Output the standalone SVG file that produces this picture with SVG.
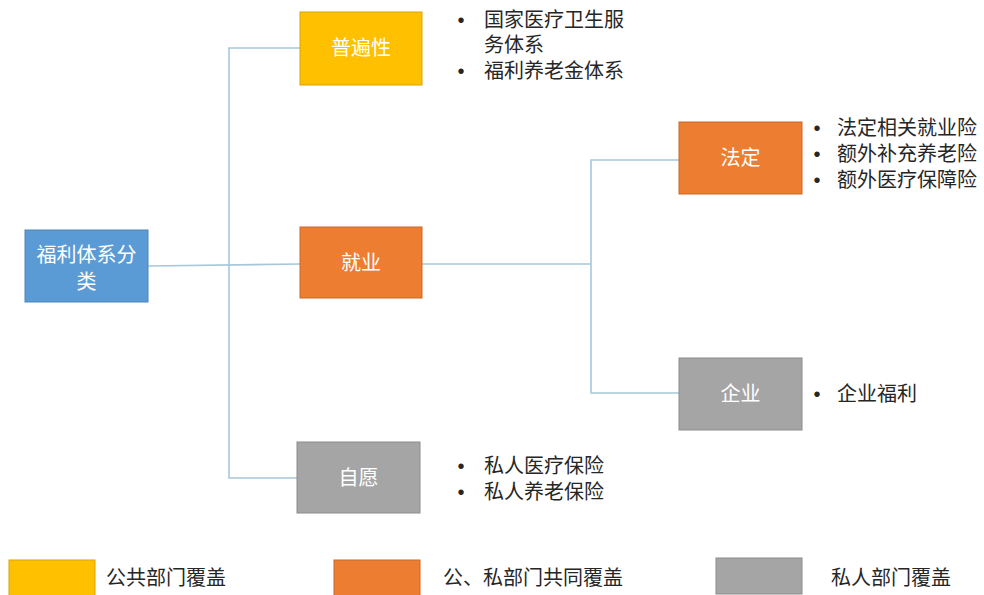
<svg xmlns="http://www.w3.org/2000/svg" width="984" height="595" viewBox="0 0 984 595">
<style>
.box{stroke-width:1}
.yel{fill:#FFC000;stroke:#D9A300}
.org{fill:#ED7D31;stroke:#C9692A}
.gry{fill:#A5A5A5;stroke:#8C8C8C}
.blu{fill:#5B9BD5;stroke:#4A85BA}
.lbl{font-family:"Noto Sans CJK SC","Liberation Sans",sans-serif;font-size:20px;fill:#FFFFFF;text-anchor:middle}
.txt{font-family:"Noto Sans CJK SC","Liberation Sans",sans-serif;font-size:20px;fill:#262626}
.bul{font-family:"Liberation Sans",sans-serif;font-size:20px;fill:#262626;text-anchor:middle}
.con{fill:none;stroke:#A6C8DA;stroke-width:1.6}
</style>
<rect width="984" height="595" fill="#FFFFFF"/>
<g id="connectors">
<path class="con" d="M148,266 L300,264"/>
<path class="con" d="M300,48 L229,48 L229,478 L297,478"/>
<path class="con" d="M422,264 L591,264"/>
<path class="con" d="M679,160 L591,160 L591,393 L679,393"/>
</g>
<g id="root">
<rect class="box blu" x="25" y="230" width="123" height="72"/>
<text class="lbl" x="86.5" y="262">福利体系分</text>
<text class="lbl" x="86.5" y="289">类</text>
</g>
<g id="universal">
<rect class="box yel" x="300" y="12" width="122" height="73"/>
<text class="lbl" x="361" y="55">普遍性</text>
</g>
<g id="employment">
<rect class="box org" x="300" y="227" width="122" height="71"/>
<text class="lbl" x="361" y="270">就业</text>
</g>
<g id="voluntary">
<rect class="box gry" x="297" y="442" width="123" height="71"/>
<text class="lbl" x="358.5" y="485">自愿</text>
</g>
<g id="statutory">
<rect class="box org" x="679" y="122" width="123" height="72"/>
<text class="lbl" x="740.5" y="165">法定</text>
</g>
<g id="enterprise">
<rect class="box gry" x="679" y="358" width="123" height="72"/>
<text class="lbl" x="740.5" y="401">企业</text>
</g>
<g id="universal-notes">
<text class="bul" x="461" y="27">•</text><text class="txt" x="484" y="27">国家医疗卫生服</text>
<text class="txt" x="484" y="52">务体系</text>
<text class="bul" x="461" y="78">•</text><text class="txt" x="484" y="78">福利养老金体系</text>
</g>
<g id="statutory-notes">
<text class="bul" x="817" y="135">•</text><text class="txt" x="837" y="135">法定相关就业险</text>
<text class="bul" x="817" y="161">•</text><text class="txt" x="837" y="161">额外补充养老险</text>
<text class="bul" x="817" y="187">•</text><text class="txt" x="837" y="187">额外医疗保障险</text>
</g>
<g id="enterprise-notes">
<text class="bul" x="817" y="401">•</text><text class="txt" x="837" y="401">企业福利</text>
</g>
<g id="voluntary-notes">
<text class="bul" x="461" y="473">•</text><text class="txt" x="484" y="473">私人医疗保险</text>
<text class="bul" x="461" y="499">•</text><text class="txt" x="484" y="499">私人养老保险</text>
</g>
<g id="legend">
<rect class="box yel" x="9" y="560" width="86" height="36"/>
<text class="txt" x="106" y="585">公共部门覆盖</text>
<rect class="box org" x="334" y="560" width="86" height="36"/>
<text class="txt" x="443" y="585">公、私部门共同覆盖</text>
<rect class="box gry" x="716" y="558" width="86" height="36"/>
<text class="txt" x="831" y="585">私人部门覆盖</text>
</g>
</svg>
